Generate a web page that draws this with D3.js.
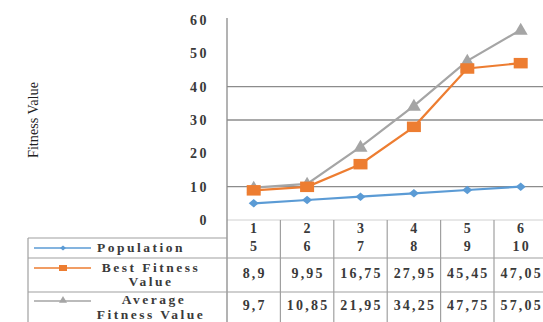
<!DOCTYPE html>
<html><head><meta charset="utf-8">
<script src="https://cdn.jsdelivr.net/npm/d3@7"></script>
<style>body{margin:0;background:#fff}svg{display:block}</style>
</head><body>
<svg id="c" width="543" height="322"></svg>
<script>
const categories = ["1","2","3","4","5","6"];
const population = [5,6,7,8,9,10];
const bestFitness = [8.9,9.95,16.75,27.95,45.45,47.05];
const avgFitness = [9.7,10.85,21.95,34.25,47.75,57.05];
const bestLabels = ["8,9","9,95","16,75","27,95","45,45","47,05"];
const avgLabels = ["9,7","10,85","21,95","34,25","47,75","57,05"];
const yTicks = [0,10,20,30,40,50,60];
const gridTicks = [10,30,40];
const seriesNames = [["Population"],["Best Fitness","Value"],["Average","Fitness Value"]];
const colors = ["#5B9BD5","#ED7D31","#A5A5A5"];

const svg = d3.select("#c");
const font = "'Liberation Serif','Times New Roman',serif";
const x = d3.scaleBand().domain(categories).range([227, 227+6*53.4]);
const y = d3.scaleLinear().domain([0,60]).range([220,20]);
const cx = d => x(d)+x.bandwidth()/2;

// gridlines
svg.append("g").selectAll("line").data(gridTicks).join("line")
  .attr("x1",227).attr("x2",543).attr("y1",d=>y(d)).attr("y2",d=>y(d))
  .attr("stroke","#8c8c8c").attr("stroke-width",1.3);
svg.append("line").attr("x1",227).attr("x2",543).attr("y1",y(0)).attr("y2",y(0))
  .attr("stroke","#d0d0d0").attr("stroke-width",1);

// y axis
const ya = svg.append("g").attr("transform","translate(209,0)")
  .call(d3.axisLeft(y).tickValues(yTicks).tickSize(0).tickPadding(0));
ya.select(".domain").remove();
ya.selectAll("text").attr("font-family",font).attr("font-size",14).attr("font-weight","bold")
  .attr("fill","#3a3a3a").attr("letter-spacing","2.5px").attr("text-anchor","end");

svg.append("text").attr("transform","translate(38,120) rotate(-90)")
  .attr("text-anchor","middle").attr("font-family",font).attr("font-size",14)
  .attr("fill","#222").attr("textLength",76).attr("lengthAdjust","spacingAndGlyphs")
  .text("Fitness Value");

// axis line (through table)
svg.append("line").attr("x1",227).attr("x2",227).attr("y1",18).attr("y2",322)
  .attr("stroke","#8a8a8a").attr("stroke-width",1.3);

// table
const tb = svg.append("g").attr("stroke","#a0a0a0").attr("stroke-width",1.2);
tb.append("line").attr("x1",28).attr("x2",227).attr("y1",238).attr("y2",238);
[258,292].forEach(r=>tb.append("line").attr("x1",28).attr("x2",543).attr("y1",r).attr("y2",r));
tb.append("line").attr("x1",28).attr("x2",28).attr("y1",238).attr("y2",322);
categories.forEach(c=>{
  tb.append("line").attr("x1",x(c)+x.bandwidth()).attr("x2",x(c)+x.bandwidth())
    .attr("y1",220).attr("y2",322);
});

const tf = sel => sel.attr("font-family",font).attr("font-size",14).attr("font-weight","bold")
  .attr("fill","#3a3a3a").attr("letter-spacing","2.2px").attr("text-anchor","middle");

svg.append("g").selectAll("text").data(categories).join("text")
  .attr("x",d=>cx(d)+1).attr("y",233).text(d=>d).call(tf);
svg.append("g").selectAll("text").data(population).join("text")
  .attr("x",(d,i)=>cx(categories[i])+1).attr("y",251).text(d=>d).call(tf);
svg.append("g").selectAll("text").data(bestLabels).join("text")
  .attr("x",(d,i)=>cx(categories[i])+1).attr("y",278).text(d=>d).call(tf);
svg.append("g").selectAll("text").data(avgLabels).join("text")
  .attr("x",(d,i)=>cx(categories[i])+1).attr("y",310).text(d=>d).call(tf);

// legend entries
const legY = [248,268,301];
const textY = [[252],[272,286],[304,319]];
const textX = [[97],[151,151],[154,151]];
seriesNames.forEach((names,i)=>{
  svg.append("line").attr("x1",34).attr("x2",91).attr("y1",legY[i]).attr("y2",legY[i])
    .attr("stroke",colors[i]).attr("stroke-width",1.6);
  names.forEach((n,j)=>{
    const t = svg.append("text").attr("y",textY[i][j]).attr("x",textX[i][j]).text(n).call(tf)
      .attr("font-size",13.5).attr("letter-spacing","2.5px");
    if(i===0) t.attr("text-anchor","start");
  });
});

// markers
function marker(g, type, px, py, col, s){
  if(type===0){
    g.append("path").attr("d",`M${px},${py-s*0.85}L${px+s},${py}L${px},${py+s*0.85}L${px-s},${py}Z`).attr("fill",col);
  } else if(type===1){
    g.append("rect").attr("x",px-s).attr("y",py-s*0.75).attr("width",2*s).attr("height",1.5*s).attr("fill",col);
  } else {
    g.append("path").attr("d",`M${px},${py-s}L${px+s},${py+s*0.7}L${px-s},${py+s*0.7}Z`).attr("fill",col);
  }
}
marker(svg,0,63,legY[0],colors[0],3);
marker(svg,1,63,legY[1],colors[1],4);
marker(svg,2,63,legY[2]-1,colors[2],4);

// series
const allSeries = [population,bestFitness,avgFitness];
const line = d3.line().x((d,i)=>cx(categories[i])).y(d=>y(d));
[2,1,0].forEach(k=>{
  const g = svg.append("g");
  g.append("path").datum(allSeries[k]).attr("d",line).attr("fill","none")
    .attr("stroke",colors[k]).attr("stroke-width",2.2);
  allSeries[k].forEach((v,i)=>{
    marker(g,k,cx(categories[i]),y(v),colors[k],k===0?5:7);
  });
});
</script>
</body></html>
